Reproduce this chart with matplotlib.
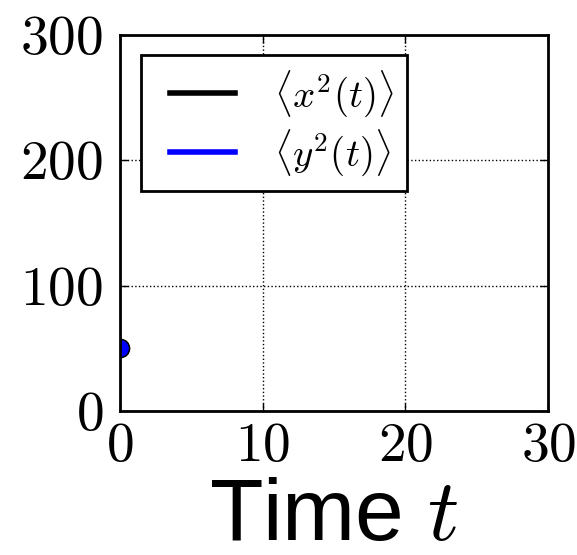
import matplotlib
matplotlib.use("Agg")
import matplotlib.pyplot as plt

t = [0.0]
x2 = [50.0]
y2 = [50.0]
xticks = [0, 10, 20, 30]
yticks = [0, 100, 200, 300]

plt.rcParams['mathtext.fontset'] = 'cm'
plt.rcParams['font.family'] = 'cmr10'
plt.rcParams['axes.formatter.use_mathtext'] = True

fig = plt.figure(figsize=(5.77, 5.55), dpi=100)
ax = fig.add_axes([0.208, 0.2595, 0.742, 0.678])

ax.plot(t, x2, color='black', lw=4, label=r'$\langle x^2(t)\rangle$')
ax.plot(t, y2, color='blue', lw=4, label=r'$\langle y^2(t)\rangle$')
ax.plot(t, x2, 'o', color='black', ms=13, clip_on=True)
ax.plot(t, y2, 'o', mfc='blue', mec='black', ms=13, clip_on=True)

ax.set_xlim(0, 30)
ax.set_ylim(0, 300)
ax.set_xticks(xticks)
ax.set_yticks(yticks)
ax.set_xticklabels([f'${v}$' for v in xticks])
ax.set_yticklabels([f'${v}$' for v in yticks])
ax.tick_params(direction='in', length=6, width=1, labelsize=40, pad=12, top=True, right=True)
ax.tick_params(axis='x', pad=8)
ax.grid(True, color='black', linestyle=':', linewidth=1)
for s in ax.spines.values():
    s.set_linewidth(2)

ax.set_xlabel(r'Time $t$', fontsize=63, family='Liberation Sans', labelpad=4)

leg = ax.legend(loc='upper left', fontsize=28, frameon=True, fancybox=False,
                edgecolor='black', framealpha=1, handlelength=2.06, borderpad=0.35,
                labelspacing=0.2, bbox_to_anchor=(0.049, 0.947), handletextpad=1.0,
                borderaxespad=0)
leg.get_frame().set_linewidth(2)
leg.get_frame().set_edgecolor('black')
for ln in leg.get_lines():
    xd = list(ln.get_xdata())
    if len(xd) >= 2:
        x0, x1 = xd[0], xd[-1]
        ln.set_xdata([x0 + 0.19 * (x1 - x0), x1])
        ln.set_ydata([ln.get_ydata()[0]] * 2)

fig.savefig('out.png', dpi=100)
